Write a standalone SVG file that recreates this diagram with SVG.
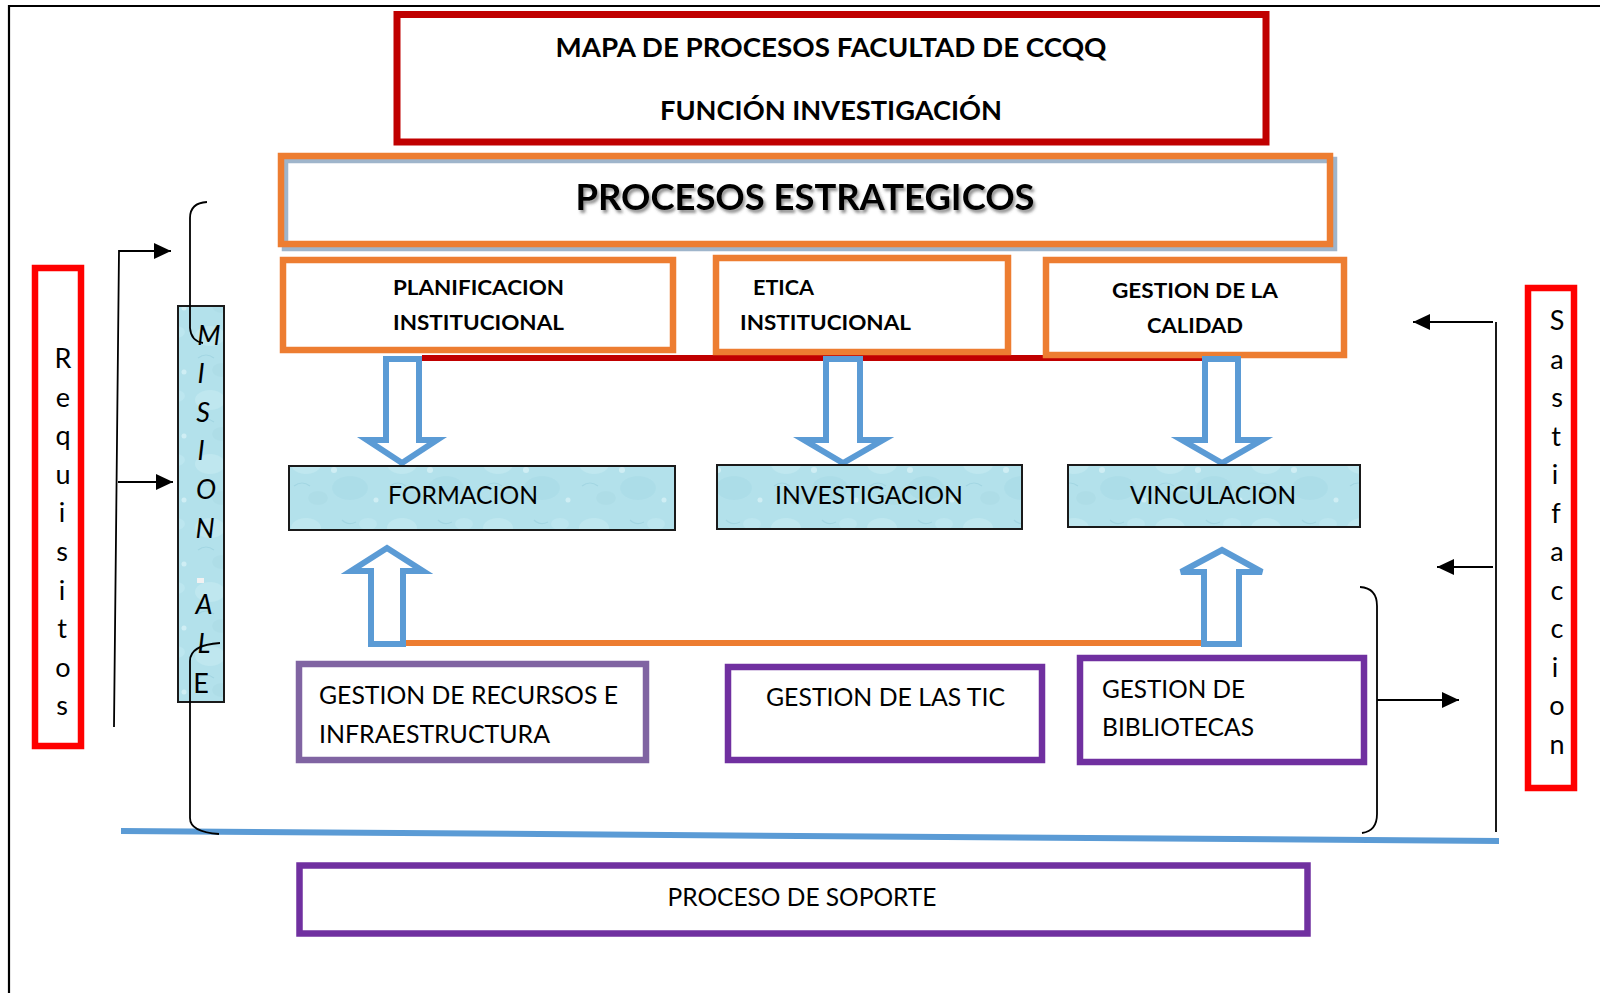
<svg xmlns="http://www.w3.org/2000/svg" width="1600" height="993" viewBox="0 0 1600 993">
<style>
.tb{font-family:Lato,"Liberation Sans",sans-serif;font-weight:bold;fill:#000}
.tr{font-family:Lato,"Liberation Sans",sans-serif;fill:#000}
.org{fill:#fff;stroke:#ED7D31;stroke-width:6.5}
.pur{fill:#fff;stroke:#7030A0;stroke-width:6.5}
.blu{fill:url(#water);stroke:#1a1a1a;stroke-width:2}
.barrow{fill:#fff;stroke:#5B9BD5;stroke-width:6;stroke-linejoin:miter}
.thin{fill:none;stroke:#000;stroke-width:1.8}
.red{fill:#fff;stroke:#FF0000;stroke-width:6.5}
.vl{font-family:Lato,"Liberation Sans",sans-serif;font-size:27px;fill:#000;text-anchor:middle}
</style>
<defs>
<pattern id="water" patternUnits="userSpaceOnUse" width="96" height="64">
<rect width="96" height="64" fill="#B3E1EB"/>
<ellipse cx="18" cy="16" rx="15" ry="10" fill="#C6EBF2" opacity="0.6"/>
<ellipse cx="62" cy="40" rx="18" ry="12" fill="#A6D9E5" opacity="0.5"/>
<ellipse cx="80" cy="12" rx="9" ry="6" fill="#C2E9F1" opacity="0.6"/>
<ellipse cx="30" cy="50" rx="10" ry="7" fill="#AAD9E4" opacity="0.5"/>
<circle cx="46" cy="22" r="3" fill="#DCF4F8" opacity="0.7"/>
<circle cx="88" cy="52" r="2.5" fill="#DCF4F8" opacity="0.7"/>
<path d="M6 38 q8 -6 16 0" fill="none" stroke="#98CFDC" stroke-width="1.2" opacity="0.6"/>
<path d="M54 8 q6 6 14 2" fill="none" stroke="#98CFDC" stroke-width="1.2" opacity="0.6"/>
</pattern>
<marker id="ah" markerUnits="userSpaceOnUse" markerWidth="18" markerHeight="16" viewBox="0 0 18 16" refX="17" refY="8" orient="auto">
<path d="M0,0 L17,8 L0,16 Z" fill="#000"/>
</marker>
<filter id="tsh" x="-5%" y="-30%" width="110%" height="160%">
<feDropShadow dx="2" dy="3" stdDeviation="1.5" flood-color="#4a4a4a" flood-opacity="0.6"/>
</filter>
</defs>

<rect width="1600" height="993" fill="#fff"/>
<path d="M9,993 L9,6 L1600,6" fill="none" stroke="#000" stroke-width="2.2"/>

<g id="connectors">
<line x1="422" y1="358" x2="1204" y2="358" stroke="#C00000" stroke-width="6"/>
<line x1="404" y1="643" x2="1203" y2="643" stroke="#ED7D31" stroke-width="6"/>
<line x1="121" y1="831" x2="1499" y2="841" stroke="#5B9BD5" stroke-width="6"/>
<polyline class="thin" points="114,727 119,251 171,251" marker-end="url(#ah)"/>
<line class="thin" x1="118" y1="482" x2="173" y2="482" marker-end="url(#ah)"/>
<line class="thin" x1="1496" y1="322" x2="1496" y2="832"/>
<line class="thin" x1="1493" y1="322" x2="1413" y2="322" marker-end="url(#ah)"/>
<line class="thin" x1="1493" y1="567" x2="1437" y2="567" marker-end="url(#ah)"/>
<path class="thin" d="M1360,587 Q1377,588 1377,606 L1377,814 Q1377,831 1362,833"/>
<line class="thin" x1="1377" y1="700" x2="1459" y2="700" marker-end="url(#ah)"/>
</g>

<g id="title">
<rect x="397" y="14.5" width="869" height="127.5" fill="#fff" stroke="#C00000" stroke-width="7"/>
<text class="tb" x="831" y="57" font-size="27" text-anchor="middle" textLength="551" lengthAdjust="spacingAndGlyphs">MAPA DE PROCESOS FACULTAD DE CCQQ</text>
<text class="tb" x="831" y="120" font-size="27" text-anchor="middle" textLength="342" lengthAdjust="spacingAndGlyphs">FUNCIÓN INVESTIGACIÓN</text>
</g>

<g id="estrategicos">
<rect x="285" y="160" width="1049" height="88" fill="none" stroke="#9FB5CB" stroke-width="6.5"/>
<rect x="281" y="156" width="1049" height="88" fill="none" stroke="#ED7D31" stroke-width="6.5"/>
<text class="tb" x="805" y="210" font-size="37" text-anchor="middle" textLength="459" lengthAdjust="spacingAndGlyphs" filter="url(#tsh)">PROCESOS ESTRATEGICOS</text>
</g>

<g id="planificacion">
<rect class="org" x="283" y="260" width="390" height="90"/>
<text class="tb" x="393" y="295" font-size="21" textLength="171" lengthAdjust="spacingAndGlyphs">PLANIFICACION</text>
<text class="tb" x="393" y="330" font-size="21" textLength="171" lengthAdjust="spacingAndGlyphs">INSTITUCIONAL</text>
</g>

<g id="etica">
<rect class="org" x="716" y="258" width="292" height="94"/>
<text class="tb" x="753" y="295" font-size="21" textLength="61" lengthAdjust="spacingAndGlyphs">ETICA</text>
<text class="tb" x="740" y="330" font-size="21" textLength="171" lengthAdjust="spacingAndGlyphs">INSTITUCIONAL</text>
</g>

<g id="calidad">
<rect class="org" x="1046" y="260" width="298" height="95"/>
<text class="tb" x="1195" y="298" font-size="21" text-anchor="middle" textLength="166" lengthAdjust="spacingAndGlyphs">GESTION DE LA</text>
<text class="tb" x="1195" y="333" font-size="21" text-anchor="middle" textLength="96" lengthAdjust="spacingAndGlyphs">CALIDAD</text>
</g>

<g id="arrows">
<polygon class="barrow" points="386,359 419,359 419,440 437,440 402,463 367,440 386,440"/>
<polygon class="barrow" points="826,359 860,359 860,440 883,440 843,463 804,440 826,440"/>
<polygon class="barrow" points="1205,359 1238,359 1238,440 1262,440 1222,463 1182,440 1205,440"/>
<polygon class="barrow" points="371,644 403,644 403,571 423,571 387,548 351,571 371,571"/>
<polygon class="barrow" points="1204,644 1239,644 1239,572 1262,572 1222,550 1181,572 1204,572"/>
</g>

<g id="formacion">
<rect class="blu" x="289" y="466" width="386" height="64"/>
<text class="tr" x="463" y="504" font-size="25" text-anchor="middle" textLength="150" lengthAdjust="spacingAndGlyphs">FORMACION</text>
</g>

<g id="investigacion">
<rect class="blu" x="717" y="465" width="305" height="64"/>
<text class="tr" x="869" y="504" font-size="25" text-anchor="middle" textLength="188" lengthAdjust="spacingAndGlyphs">INVESTIGACION</text>
</g>

<g id="vinculacion">
<rect class="blu" x="1068" y="465" width="292" height="62"/>
<text class="tr" x="1213" y="504" font-size="25" text-anchor="middle" textLength="166" lengthAdjust="spacingAndGlyphs">VINCULACION</text>
</g>

<g id="recursos">
<rect x="299" y="664" width="347" height="96" fill="#fff" stroke="#8064A2" stroke-width="6.5"/>
<text class="tr" x="319" y="704" font-size="25" textLength="299" lengthAdjust="spacingAndGlyphs">GESTION DE RECURSOS E</text>
<text class="tr" x="319" y="743" font-size="25" textLength="231" lengthAdjust="spacingAndGlyphs">INFRAESTRUCTURA</text>
</g>

<g id="tic">
<rect class="pur" x="728" y="667" width="314" height="93"/>
<text class="tr" x="766" y="706" font-size="25" textLength="239" lengthAdjust="spacingAndGlyphs">GESTION DE LAS TIC</text>
</g>

<g id="bibliotecas">
<rect class="pur" x="1080" y="658" width="284" height="104"/>
<text class="tr" x="1102" y="698" font-size="25" textLength="143" lengthAdjust="spacingAndGlyphs">GESTION DE</text>
<text class="tr" x="1102" y="736" font-size="25" textLength="152" lengthAdjust="spacingAndGlyphs">BIBLIOTECAS</text>
</g>

<g id="soporte">
<rect class="pur" x="299.5" y="865.5" width="1008" height="68"/>
<text class="tr" x="802" y="906" font-size="25" text-anchor="middle" textLength="269" lengthAdjust="spacingAndGlyphs">PROCESO DE SOPORTE</text>
</g>

<g id="requisitos">
<rect class="red" x="35" y="268" width="46" height="478"/>
<text class="vl" x="63" y="368">R</text>
<text class="vl" x="63" y="406.6">e</text>
<text class="vl" x="63" y="445.2">q</text>
<text class="vl" x="63" y="483.8">u</text>
<text class="vl" x="62" y="522.4">i</text>
<text class="vl" x="62" y="561">s</text>
<text class="vl" x="62" y="599.6">i</text>
<text class="vl" x="62" y="638.2">t</text>
<text class="vl" x="63" y="676.8">o</text>
<text class="vl" x="62" y="715.4">s</text>
</g>

<g id="satisfaccion">
<rect class="red" x="1528" y="288" width="46" height="500"/>
<text class="vl" x="1557" y="330">S</text>
<text class="vl" x="1557" y="368.5">a</text>
<text class="vl" x="1557" y="407">s</text>
<text class="vl" x="1556" y="445.5">t</text>
<text class="vl" x="1555" y="484">i</text>
<text class="vl" x="1556" y="522.5">f</text>
<text class="vl" x="1557" y="561">a</text>
<text class="vl" x="1557" y="599.5">c</text>
<text class="vl" x="1557" y="638">c</text>
<text class="vl" x="1555" y="676.5">i</text>
<text class="vl" x="1557" y="715">o</text>
<text class="vl" x="1557" y="753.5">n</text>
</g>

<g id="mision">
<rect class="blu" x="178" y="306" width="46" height="396"/>
<g font-style="italic">
<text class="vl" x="209" y="345">M</text>
<text class="vl" x="201" y="383">I</text>
<text class="vl" x="203" y="421.5">S</text>
<text class="vl" x="201" y="460">I</text>
<text class="vl" x="206" y="499">O</text>
<text class="vl" x="205" y="537.5">N</text>
<text class="vl" x="204" y="614">A</text>
<text class="vl" x="204" y="653">L</text>
</g>
<text class="vl" x="201" y="693">E</text>
<rect x="197" y="578" width="7" height="5" fill="#f2f2f2"/>
</g>

<g id="brackets">
<path class="thin" d="M207,202 Q190,203 190,218 L190,328 Q191,341 203,343"/>
<path class="thin" d="M220,643 Q190,645 190,661 L190,818 Q190,832 219,834"/>
</g>
</svg>
